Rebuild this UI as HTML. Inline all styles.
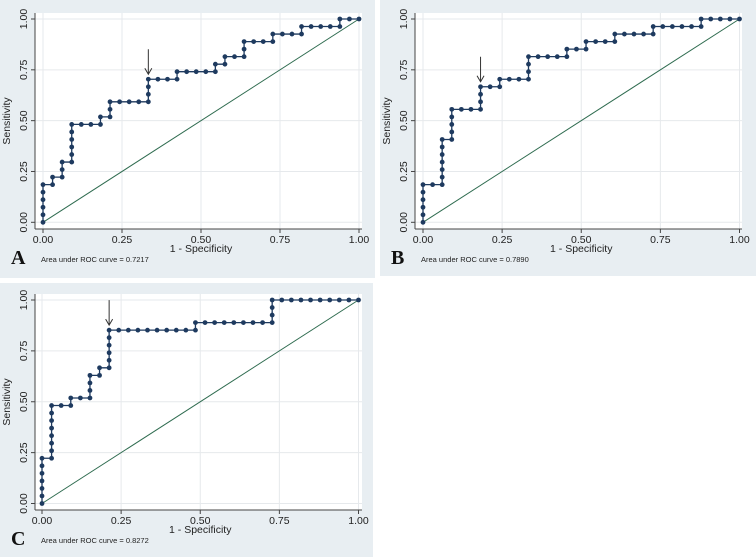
<!DOCTYPE html>
<html><head><meta charset="utf-8"><style>
body{margin:0;background:#fff;width:756px;height:557px;overflow:hidden;font-family:"Liberation Sans",sans-serif}
svg{position:absolute;left:0;top:0}
</style></head><body>
<svg id="chart" width="756" height="557"></svg>
<script>
// Data: counts of false positives (of 33) and true positives (of 27)
const nNeg = 33, nPos = 27;
const fprA = [0,0,0,0,0,0,1,1,2,2,2,3,3,3,3,3,3,4,5,6,6,7,7,7,8,9,10,11,11,11,11,12,13,14,14,15,16,17,18,18,19,19,20,21,21,21,22,23,24,24,25,26,27,27,28,29,30,31,31,32,33];
const tprA = [0,1,2,3,4,5,5,6,6,7,8,8,9,10,11,12,13,13,13,13,14,14,15,16,16,16,16,16,17,18,19,19,19,19,20,20,20,20,20,21,21,22,22,22,23,24,24,24,24,25,25,25,25,26,26,26,26,26,27,27,27];
const fprB = [0,0,0,0,0,0,1,2,2,2,2,2,2,2,3,3,3,3,3,4,5,6,6,6,6,7,8,8,9,10,11,11,11,11,12,13,14,15,15,16,17,17,18,19,20,20,21,22,23,24,24,25,26,27,28,29,29,30,31,32,33];
const tprB = [0,1,2,3,4,5,5,5,6,7,8,9,10,11,11,12,13,14,15,15,15,15,16,17,18,18,18,19,19,19,19,20,21,22,22,22,22,22,23,23,23,24,24,24,24,25,25,25,25,25,26,26,26,26,26,26,27,27,27,27,27];
const fprC = [0,0,0,0,0,0,0,1,1,1,1,1,1,1,1,2,3,3,4,5,5,5,5,6,6,7,7,7,7,7,7,8,9,10,11,12,13,14,15,16,16,17,18,19,20,21,22,23,24,24,24,24,25,26,27,28,29,30,31,32,33];
const tprC = [0,1,2,3,4,5,6,6,7,8,9,10,11,12,13,13,13,14,14,14,15,16,17,17,18,18,19,20,21,22,23,23,23,23,23,23,23,23,23,23,24,24,24,24,24,24,24,24,24,25,26,27,27,27,27,27,27,27,27,27,27];
const cutA = [11/33, 19/27], cutB = [6/33, 18/27], cutC = [7/33, 23/27];
const ticks = [0, 0.25, 0.5, 0.75, 1];
const tickLabels = ["0.00","0.25","0.50","0.75","1.00"];
const aucLabels = ["Area under ROC curve = 0.7217","Area under ROC curve = 0.7890","Area under ROC curve = 0.8272"];
const panelLetters = ["A","B","C"];

const NS = "http://www.w3.org/2000/svg";
const svg = document.getElementById("chart");
function mk(tag, attrs, parent){const e=document.createElementNS(NS,tag);for(const k in attrs)e.setAttribute(k,attrs[k]);(parent||svg).appendChild(e);return e;}

const panels = [
 {bx:0,by:0,bw:375,bh:278,x0:43,x1:359,y0:222.3,y1:19,fx:35,fy:13,fr:362,fb:229,fpr:fprA,tpr:tprA,cut:cutA},
 {bx:380,by:0,bw:376,bh:276,x0:423,x1:739.5,y0:222.3,y1:19,fx:415,fy:13,fr:742,fb:229,fpr:fprB,tpr:tprB,cut:cutB},
 {bx:0,by:283,bw:373,bh:274,x0:42,x1:358.5,y0:503.5,y1:300,fx:35,fy:294,fr:362,fb:510,fpr:fprC,tpr:tprC,cut:cutC}
];

panels.forEach((p,pi)=>{
  const g = mk("g",{});
  
  
  const sx = v=>p.x0+(p.x1-p.x0)*v, sy = v=>p.y0+(p.y1-p.y0)*v;
  const bg = mk("rect",{x:p.bx,y:p.by,width:p.bw,height:p.bh,fill:"#e8eef2"},g);
  
  
  const pa = mk("rect",{x:p.fx,y:p.fy,width:p.fr-p.fx,height:p.fb-p.fy,fill:"#fff"},g);
  
  
  ticks.forEach((t,i)=>{
    mk("line",{x1:p.fx,x2:p.fr,y1:sy(t),y2:sy(t),stroke:"#e6e9ec","stroke-width":1},g);
    mk("line",{x1:sx(t),x2:sx(t),y1:p.fy,y2:p.fb,stroke:"#e6e9ec","stroke-width":1},g);
    mk("line",{x1:p.fx-4,x2:p.fx,y1:sy(t),y2:sy(t),stroke:"#444"},g);
    mk("line",{x1:sx(t),x2:sx(t),y1:p.fb,y2:p.fb+4,stroke:"#444"},g);
    const yl = mk("text",{x:p.fx-8,y:sy(t),transform:`rotate(-90 ${p.fx-8} ${sy(t)})`,"text-anchor":"middle","font-size":"10.5",fill:"#222"},g);
    yl.textContent = tickLabels[i];
    
    
    const xl = mk("text",{x:sx(t),y:p.fb+14,"text-anchor":"middle","font-size":"10.5",fill:"#222"},g);
    xl.textContent = tickLabels[i];
    
    
  });
  mk("line",{x1:p.fx,x2:p.fx,y1:p.fy,y2:p.fb,stroke:"#444"},g);
  mk("line",{x1:p.fx,x2:p.fr,y1:p.fb,y2:p.fb,stroke:"#444"},g);
  const ref = mk("line",{x1:sx(0),y1:sy(0),x2:sx(1),y2:sy(1),stroke:"#2e6b4f","stroke-width":1},g);
  
  
  let d="";
  p.fpr.forEach((f,i)=>{d+=(i?"L":"M")+sx(f/nNeg).toFixed(2)+","+sy(p.tpr[i]/nPos).toFixed(2);});
  const path = mk("path",{d:d,fill:"none",stroke:"#1e3a5f","stroke-width":1.3},g);
  
  
  p.fpr.forEach((f,i)=>{
    const c = mk("circle",{cx:sx(f/nNeg),cy:sy(p.tpr[i]/nPos),r:2.4,fill:"#1e3a5f"},g);
    
    
  });
  const ax = sx(p.cut[0]), ay = sy(p.cut[1]);
  const arr = mk("path",{d:`M${ax},${ay-30}L${ax},${ay-5}M${ax-3.5},${ay-11}L${ax},${ay-5}L${ax+3.5},${ay-11}`,fill:"none",stroke:"#333","stroke-width":1},g);
  
  
  const yt = mk("text",{x:p.bx+10,y:(p.fy+p.fb)/2,transform:`rotate(-90 ${p.bx+10} ${(p.fy+p.fb)/2})`,"text-anchor":"middle","font-size":"10.5",fill:"#222"},g);
  yt.textContent="Sensitivity";
  
  
  const xt = mk("text",{x:(p.x0+p.x1)/2,y:p.fb+23,"text-anchor":"middle","font-size":"10.5",fill:"#222"},g);
  xt.textContent="1 - Specificity";
  
  
  const lt = mk("text",{x:p.bx+11,y:p.fb+35,"font-size":"20","font-weight":"bold","font-family":"Liberation Serif, serif",fill:"#111"},g);
  lt.textContent=panelLetters[pi];
  
  
  const at = mk("text",{x:p.bx+41,y:p.fb+33,"font-size":"7.5",fill:"#222"},g);
  at.textContent=aucLabels[pi];
  
  
});
</script>
</body></html>
